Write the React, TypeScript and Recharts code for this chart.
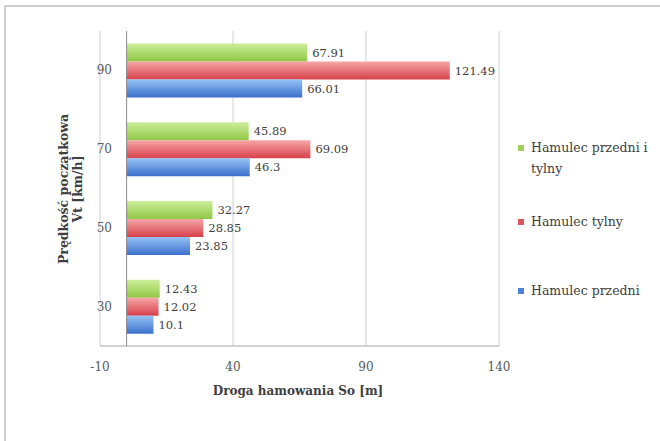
import {
  BarChart,
  Bar,
  XAxis,
  YAxis,
  CartesianGrid,
  LabelList,
  ReferenceLine,
} from "recharts";

const speeds = ["30", "50", "70", "90"];
const frontBrake = [10.1, 23.85, 46.3, 66.01];
const rearBrake = [12.02, 28.85, 69.09, 121.49];
const bothBrakes = [12.43, 32.27, 45.89, 67.91];
const xTicks = [-10, 40, 90, 140];

const data = speeds.map((s, i) => ({
  name: s,
  front: frontBrake[i],
  rear: rearBrake[i],
  both: bothBrakes[i],
}));

const legendItems = [
  { label: ["Hamulec przedni i", "tylny"], color: "#9fd15a", top: 137 },
  { label: ["Hamulec tylny"], color: "#e0555a", top: 211 },
  { label: ["Hamulec przedni"], color: "#4a83d8", top: 280 },
];

const serif = "'DejaVu Serif', serif";
const labelStyle = { fontFamily: serif, fontSize: 11.5, fill: "#404040" };

const CategoryTick = ({ x, y, payload }: any) => (
  <text x={x + 12} y={y} dy={4} textAnchor="end" fontFamily={serif} fontSize={12} fill="#595959">
    {payload.value}
  </text>
);

export default function App() {
  return (
    <div style={{ position: "absolute", left: 0, top: 0, width: 660, height: 441, background: "#fff", overflow: "hidden" }}>
      <div
        style={{
          position: "absolute",
          left: 4,
          top: 5,
          width: 700,
          height: 480,
          borderLeft: "2px solid #cfcfcf",
          borderTop: "2px solid #cfcfcf",
        }}
      />
      <BarChart
        width={660}
        height={441}
        data={data}
        layout="vertical"
        margin={{ top: 31, right: 161, left: 70, bottom: 65 }}
        barCategoryGap="16%"
        barGap={0}
        style={{ position: "absolute", left: 0, top: 0 }}
      >
        <defs>
          <linearGradient id="gGreen" x1="0" y1="0" x2="0" y2="1">
            <stop offset="0%" stopColor="#cdee9a" />
            <stop offset="100%" stopColor="#8fc744" />
          </linearGradient>
          <linearGradient id="gRed" x1="0" y1="0" x2="0" y2="1">
            <stop offset="0%" stopColor="#f6a6a6" />
            <stop offset="100%" stopColor="#d6404a" />
          </linearGradient>
          <linearGradient id="gBlue" x1="0" y1="0" x2="0" y2="1">
            <stop offset="0%" stopColor="#95c2f4" />
            <stop offset="100%" stopColor="#3a6fcc" />
          </linearGradient>
        </defs>
        <CartesianGrid horizontal={false} stroke="#d0d0d0" />
        <XAxis
          type="number"
          domain={[-10, 140]}
          ticks={xTicks}
          interval={0}
          height={30}
          axisLine={{ stroke: "#a6a6a6" }}
          tickLine={false}
          tick={{ fontFamily: serif, fontSize: 12, fill: "#595959" }}
          tickMargin={10}
        />
        <YAxis
          type="category"
          dataKey="name"
          reversed
          width={30}
          axisLine={false}
          tickLine={false}
          tickSize={0}
          tickMargin={0}
          tick={<CategoryTick />}
        />
        <ReferenceLine x={0} stroke="#8c8c8c" />
        <Bar dataKey="both" fill="url(#gGreen)" isAnimationActive={false}>
          <LabelList dataKey="both" position="right" offset={5} style={labelStyle} />
        </Bar>
        <Bar dataKey="rear" fill="url(#gRed)" isAnimationActive={false}>
          <LabelList dataKey="rear" position="right" offset={5} style={labelStyle} />
        </Bar>
        <Bar dataKey="front" fill="url(#gBlue)" isAnimationActive={false}>
          <LabelList dataKey="front" position="right" offset={5} style={labelStyle} />
        </Bar>
      </BarChart>
      <div style={{ position: "absolute", left: 71, top: 189, width: 0, height: 0 }}>
        <div
          style={{
            position: "absolute",
            left: 0,
            top: 0,
            transform: "translate(-50%, -50%) rotate(-90deg)",
            fontFamily: serif,
            fontWeight: "bold",
            fontSize: 12.5,
            lineHeight: "14px",
            color: "#404040",
            textAlign: "center",
            whiteSpace: "nowrap",
          }}
        >
          <div>Prędkość początkowa</div>
          <div>Vt [km/h]</div>
        </div>
      </div>
      <div
        style={{
          position: "absolute",
          left: 298,
          top: 391,
          transform: "translate(-50%, -50%)",
          fontFamily: serif,
          fontWeight: "bold",
          fontSize: 12,
          color: "#404040",
          whiteSpace: "nowrap",
        }}
      >
        Droga hamowania So [m]
      </div>
      {legendItems.map((item) => (
        <div
          key={item.label[0]}
          style={{
            position: "absolute",
            left: 518,
            top: item.top,
            display: "flex",
            alignItems: "flex-start",
            fontFamily: serif,
          }}
        >
          <span
            style={{ width: 6, height: 6, background: item.color, marginTop: 8, marginRight: 7, flexShrink: 0 }}
          />
          <span style={{ fontSize: 12.5, lineHeight: "21px", color: "#404040", whiteSpace: "nowrap" }}>
            {item.label.map((l) => (
              <div key={l}>{l}</div>
            ))}
          </span>
        </div>
      ))}
    </div>
  );
}
